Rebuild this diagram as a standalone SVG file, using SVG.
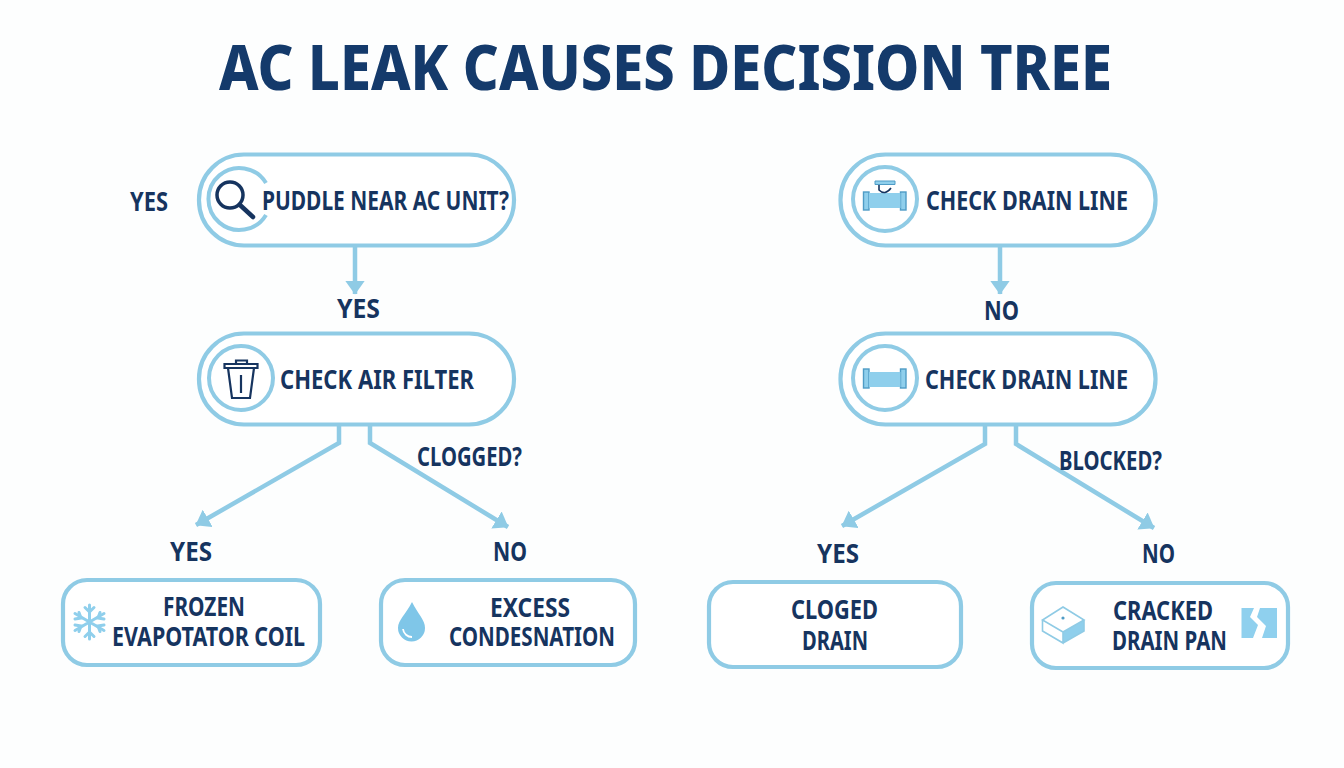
<svg xmlns="http://www.w3.org/2000/svg" width="1344" height="768" viewBox="0 0 1344 768">
<defs>
<style>
text{font-family:"Noto Sans","Open Sans","Liberation Sans",sans-serif;font-weight:700;fill:#16345f;font-size:27.500px}
.title{font-size:62px;font-weight:800;fill:#143a6b}
.box{fill:#fff;stroke:#8fcbe5;stroke-width:4.200}
.ring{fill:none;stroke:#8fcbe5;stroke-width:4}
.conn{fill:none;stroke:#8fcbe5;stroke-width:4.500;stroke-linejoin:miter}
.head{fill:#8fcbe5}
.dark{fill:none;stroke:#16345f;stroke-width:2.200}
.pipe{fill:#8fcfec;stroke:#4f9cc6;stroke-width:1.400}
.flake{fill:none;stroke:#8fcfec;stroke-width:3;stroke-linecap:round}
</style>
<marker id="arrow" viewBox="0 0 14 20" refX="13.500" refY="10" markerUnits="userSpaceOnUse" markerWidth="14" markerHeight="20" orient="auto"><path class="head" d="M0 0L14 10L0 20Z"/></marker>
</defs>
<rect width="1344" height="768" fill="#fdfefe"/>
<text id="title" class="title" x="219" y="90" textLength="893" lengthAdjust="spacingAndGlyphs">AC LEAK CAUSES DECISION TREE</text>
<g id="connectors">
<path class="conn" d="M355 246V294" marker-end="url(#arrow)"/>
<path class="conn" d="M1000 246V294" marker-end="url(#arrow)"/>
<path class="conn" d="M339 426V443L196 525" marker-end="url(#arrow)"/>
<path class="conn" d="M370 426V443L508 527" marker-end="url(#arrow)"/>
<path class="conn" d="M985 426V444L842 526" marker-end="url(#arrow)"/>
<path class="conn" d="M1016 426V444L1154 528" marker-end="url(#arrow)"/>
</g>
<g id="label-yes-side"><text x="130" y="210.500" textLength="38" lengthAdjust="spacingAndGlyphs" style="font-size:26px">YES</text></g>
<g id="label-yes-1"><text x="337" y="317.500" textLength="43" lengthAdjust="spacingAndGlyphs">YES</text></g>
<g id="label-no-1"><text x="984" y="319.500" textLength="35" lengthAdjust="spacingAndGlyphs">NO</text></g>
<g id="label-clogged"><text x="417" y="465.500" textLength="105" lengthAdjust="spacingAndGlyphs">CLOGGED?</text></g>
<g id="label-blocked"><text x="1059" y="469.500" textLength="103" lengthAdjust="spacingAndGlyphs">BLOCKED?</text></g>
<g id="label-yes-2"><text x="170" y="560.500" textLength="42" lengthAdjust="spacingAndGlyphs">YES</text></g>
<g id="label-no-2"><text x="493" y="560.500" textLength="34" lengthAdjust="spacingAndGlyphs">NO</text></g>
<g id="label-yes-3"><text x="817" y="562.500" textLength="42" lengthAdjust="spacingAndGlyphs">YES</text></g>
<g id="label-no-3"><text x="1142" y="562.500" textLength="33" lengthAdjust="spacingAndGlyphs">NO</text></g>
<g id="node-puddle">
<rect class="box" x="199" y="154.500" width="315" height="91" rx="45"/>
<path class="ring" d="M266 183A31 31 0 1 0 266 215"/>
<circle cx="230" cy="195" r="13" fill="none" stroke="#16345f" stroke-width="3.500"/>
<path d="M240 205L253 217" stroke="#16345f" stroke-width="4.500" stroke-linecap="round"/>
<text x="262" y="209.500" textLength="247" lengthAdjust="spacingAndGlyphs">PUDDLE NEAR AC UNIT?</text>
</g>
<g id="node-filter">
<rect class="box" x="199" y="333.500" width="315" height="91" rx="45"/>
<circle class="ring" cx="241" cy="378" r="32"/>
<path class="dark" d="M224.500 364H257.500V368H224.500ZM236 364V360.500H247V364M228 368L232 398H250L254 368M241 375V393"/>
<text x="280" y="388.500" textLength="194" lengthAdjust="spacingAndGlyphs">CHECK AIR FILTER</text>
</g>
<g id="node-drain-1">
<rect class="box" x="840.500" y="154.500" width="315" height="91" rx="45"/>
<circle class="ring" cx="885" cy="199" r="32"/>
<rect class="pipe" x="863.500" y="192" width="5.500" height="18"/>
<rect class="pipe" x="900.500" y="192" width="5.500" height="18"/>
<rect x="869" y="193" width="31.500" height="15" fill="#8fcfec"/>
<path d="M875 181H895V184.500H875Z" fill="#8fcfec" stroke="#4f9cc6"/>
<path d="M879 185V190Q885 196 891 188" fill="#fff" stroke="#16345f" stroke-width="1.600"/>
<text x="926" y="209.500" textLength="202" lengthAdjust="spacingAndGlyphs">CHECK DRAIN LINE</text>
</g>
<g id="node-drain-2">
<rect class="box" x="840.500" y="333.500" width="315" height="91" rx="45"/>
<circle class="ring" cx="885" cy="378" r="32"/>
<rect class="pipe" x="863.500" y="369" width="5.500" height="19"/>
<rect class="pipe" x="900.500" y="369" width="5.500" height="19"/>
<rect x="869" y="372" width="31.500" height="15" fill="#8fcfec"/>
<text x="925" y="388.500" textLength="203" lengthAdjust="spacingAndGlyphs">CHECK DRAIN LINE</text>
</g>
<g id="node-frozen">
<rect class="box" x="63" y="580" width="257" height="85" rx="24"/>
<g class="flake">
<path d="M89.500 605V639M75 613.500L104 630.500M75 630.500L104 613.500"/>
<path d="M85 607.500L89.500 612L94 607.500M85 636.500L89.500 632L94 636.500M75 619L81 618L79 612.500M104 619L98 618L100 612.500M75 625L81 626L79 631.500M104 625L98 626L100 631.500"/>
</g>
<text><tspan x="163" y="615.500" textLength="82" lengthAdjust="spacingAndGlyphs">FROZEN</tspan><tspan x="112" y="645.500" textLength="193" lengthAdjust="spacingAndGlyphs">EVAPOTATOR COIL</tspan></text>
</g>
<g id="node-excess">
<rect class="box" x="381" y="580" width="254" height="85" rx="24"/>
<path d="M412 602C406 614 398 620 398 628A13.500 13.500 0 0 0 425 628C425 620 418 614 412 602Z" fill="#7fc6e8"/>
<path d="M403 629A9 9 0 0 0 412 637" fill="none" stroke="#fff" stroke-width="1.800"/>
<text><tspan x="490" y="616.500" textLength="80" lengthAdjust="spacingAndGlyphs">EXCESS</tspan><tspan x="449" y="645.500" textLength="166" lengthAdjust="spacingAndGlyphs">CONDESNATION</tspan></text>
</g>
<g id="node-cloged">
<rect class="box" x="709" y="582" width="252" height="85" rx="24"/>
<text><tspan x="791" y="618.500" textLength="87" lengthAdjust="spacingAndGlyphs">CLOGED</tspan><tspan x="802" y="649.500" textLength="66" lengthAdjust="spacingAndGlyphs">DRAIN</tspan></text>
</g>
<g id="node-cracked">
<rect class="box" x="1032" y="583" width="256" height="85" rx="24"/>
<path d="M1063 632L1084 620V631L1063 643Z" fill="#8fcfec"/>
<path d="M1063 607L1084 620L1063 632L1042.500 620ZM1042.500 620V631L1063 643V632M1084 620V631L1063 643" fill="none" stroke="#8fcbe5" stroke-width="1.600"/>
<circle cx="1063" cy="618" r="1.600" fill="#4f9cc6"/>
<path d="M1241.500 608H1254L1250 617L1258 625L1253 638H1241.500Z" fill="#8fd0ee"/>
<path d="M1260 608H1277V638H1262L1266 626L1257 617Z" fill="#8fd0ee"/>
<text><tspan x="1113" y="619.500" textLength="100" lengthAdjust="spacingAndGlyphs">CRACKED</tspan><tspan x="1112" y="649.500" textLength="115" lengthAdjust="spacingAndGlyphs">DRAIN PAN</tspan></text>
</g>
</svg>
